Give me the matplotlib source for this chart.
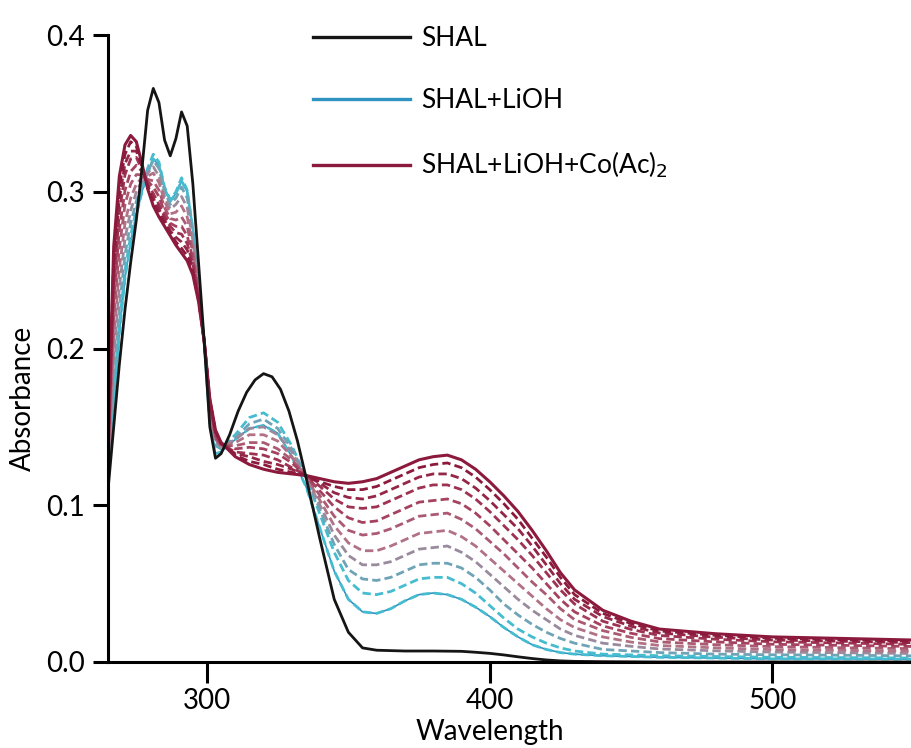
import matplotlib
matplotlib.use('Agg')

import matplotlib.pyplot as plt
from matplotlib.lines import Line2D
from matplotlib.colors import LinearSegmentedColormap

plt.rcParams['font.family'] = ['Lato', 'DejaVu Sans']

# wavelength grid (nm) shared by all spectra
wavelength = [265, 267, 269, 271, 273, 275, 277, 279, 281, 283, 285, 287, 289, 291, 293,
              295, 297, 299, 301, 303, 305, 310, 315, 320, 325, 330, 335, 340, 345, 350,
              355, 360, 365, 370, 375, 380, 385, 390, 395, 400, 405, 410, 415, 420, 425,
              430, 440, 450, 460, 480, 500, 525, 550]

# black curve gets a finer grid around its 320 nm band
wl_shal = [265, 267, 269, 271, 273, 275, 277, 279, 281, 283, 285, 287, 289, 291, 293,
           295, 297, 299, 301, 303, 305, 308, 311, 314, 317, 320, 323, 326, 329, 332,
           335, 340, 345, 350, 355, 360, 370, 380, 390, 395, 400, 405, 410, 415, 420,
           425, 430, 440, 460, 500, 550]
shal = [0.110, 0.150, 0.190, 0.225, 0.255, 0.282, 0.315, 0.352, 0.366, 0.357, 0.333, 0.323,
        0.334, 0.351, 0.342, 0.305, 0.255, 0.205, 0.150, 0.130, 0.133, 0.145, 0.160, 0.172,
        0.180, 0.184, 0.182, 0.174, 0.160, 0.141, 0.118, 0.078, 0.040, 0.019, 0.009, 0.0075,
        0.007, 0.007, 0.0068, 0.0062, 0.0055, 0.0045, 0.0033, 0.0022, 0.0013, 0.0007,
        0.0004, 0.0002, 0.0, 0.0, 0.0]

shal_lioh = [0.113, 0.165, 0.210, 0.245, 0.268, 0.285, 0.300, 0.312, 0.321, 0.317, 0.302,
             0.294, 0.299, 0.307, 0.300, 0.276, 0.241, 0.204, 0.152, 0.133, 0.134, 0.142,
             0.149, 0.151, 0.146, 0.131, 0.112, 0.085, 0.058, 0.040, 0.032, 0.031, 0.034,
             0.039, 0.043, 0.044, 0.043, 0.040, 0.035, 0.029, 0.022, 0.016, 0.011, 0.008,
             0.006, 0.005, 0.004, 0.0035, 0.003, 0.0025, 0.002, 0.002, 0.0018]

# Co(Ac)2 titration steps, dashed
titration = [
    [0.115, 0.170, 0.215, 0.250, 0.272, 0.289, 0.303, 0.315, 0.324, 0.319, 0.303, 0.295,
     0.300, 0.309, 0.301, 0.276, 0.241, 0.204, 0.158, 0.138, 0.136, 0.145, 0.156, 0.159,
     0.153, 0.138, 0.118, 0.094, 0.070, 0.052, 0.044, 0.043, 0.045, 0.049, 0.053, 0.054,
     0.054, 0.050, 0.044, 0.036, 0.028, 0.021, 0.016, 0.012, 0.009, 0.007, 0.005, 0.0045,
     0.004, 0.0035, 0.003, 0.0028, 0.0025],
    [0.118, 0.181, 0.226, 0.260, 0.280, 0.294, 0.305, 0.313, 0.320, 0.315, 0.300, 0.292,
     0.296, 0.303, 0.296, 0.273, 0.240, 0.204, 0.159, 0.139, 0.136, 0.143, 0.152, 0.155,
     0.149, 0.136, 0.118, 0.097, 0.075, 0.059, 0.053, 0.052, 0.054, 0.058, 0.062, 0.063,
     0.063, 0.060, 0.054, 0.046, 0.037, 0.030, 0.024, 0.019, 0.015, 0.012, 0.008, 0.007,
     0.006, 0.005, 0.0046, 0.0043, 0.0039],
    [0.121, 0.194, 0.239, 0.270, 0.288, 0.300, 0.307, 0.312, 0.316, 0.310, 0.297, 0.289,
     0.292, 0.297, 0.290, 0.269, 0.238, 0.204, 0.161, 0.141, 0.137, 0.142, 0.149, 0.150,
     0.145, 0.134, 0.118, 0.100, 0.081, 0.068, 0.062, 0.062, 0.064, 0.068, 0.072, 0.073,
     0.074, 0.070, 0.064, 0.056, 0.048, 0.040, 0.033, 0.027, 0.021, 0.017, 0.012, 0.010,
     0.0083, 0.0071, 0.0063, 0.0059, 0.0054],
    [0.125, 0.206, 0.251, 0.280, 0.296, 0.305, 0.309, 0.310, 0.312, 0.306, 0.294, 0.286,
     0.287, 0.291, 0.284, 0.265, 0.237, 0.204, 0.162, 0.142, 0.138, 0.140, 0.145, 0.145,
     0.141, 0.131, 0.118, 0.103, 0.087, 0.076, 0.071, 0.071, 0.074, 0.078, 0.082, 0.083,
     0.084, 0.080, 0.074, 0.066, 0.058, 0.050, 0.042, 0.034, 0.027, 0.022, 0.016, 0.0127,
     0.0105, 0.009, 0.0079, 0.0074, 0.0069],
    [0.128, 0.219, 0.264, 0.292, 0.305, 0.311, 0.311, 0.308, 0.307, 0.301, 0.290, 0.283,
     0.282, 0.284, 0.278, 0.261, 0.235, 0.205, 0.163, 0.143, 0.138, 0.138, 0.140, 0.140,
     0.136, 0.129, 0.119, 0.106, 0.093, 0.084, 0.081, 0.082, 0.085, 0.089, 0.093, 0.094,
     0.095, 0.091, 0.085, 0.077, 0.069, 0.060, 0.051, 0.043, 0.034, 0.027, 0.020, 0.0157,
     0.0128, 0.011, 0.0098, 0.0091, 0.0085],
    [0.131, 0.231, 0.276, 0.301, 0.313, 0.317, 0.313, 0.307, 0.303, 0.297, 0.287, 0.280,
     0.278, 0.278, 0.272, 0.257, 0.234, 0.205, 0.164, 0.144, 0.139, 0.136, 0.137, 0.136,
     0.133, 0.127, 0.119, 0.109, 0.099, 0.092, 0.089, 0.090, 0.094, 0.098, 0.102, 0.103,
     0.104, 0.101, 0.095, 0.087, 0.078, 0.069, 0.060, 0.050, 0.040, 0.032, 0.023, 0.0183,
     0.0149, 0.0128, 0.0113, 0.0106, 0.0099],
    [0.134, 0.242, 0.287, 0.311, 0.321, 0.322, 0.314, 0.305, 0.299, 0.292, 0.284, 0.278,
     0.274, 0.273, 0.267, 0.254, 0.233, 0.205, 0.166, 0.146, 0.139, 0.134, 0.133, 0.132,
     0.129, 0.124, 0.119, 0.112, 0.104, 0.099, 0.098, 0.099, 0.103, 0.107, 0.111, 0.113,
     0.113, 0.110, 0.104, 0.096, 0.087, 0.078, 0.068, 0.057, 0.046, 0.037, 0.026, 0.0208,
     0.0169, 0.0145, 0.0129, 0.0121, 0.0112],
    [0.136, 0.251, 0.296, 0.318, 0.326, 0.326, 0.316, 0.304, 0.296, 0.289, 0.282, 0.275,
     0.271, 0.268, 0.263, 0.251, 0.232, 0.205, 0.167, 0.147, 0.139, 0.133, 0.131, 0.128,
     0.126, 0.123, 0.119, 0.114, 0.108, 0.105, 0.104, 0.106, 0.110, 0.114, 0.118, 0.120,
     0.120, 0.117, 0.111, 0.103, 0.094, 0.085, 0.074, 0.062, 0.050, 0.040, 0.029, 0.0228,
     0.0185, 0.0158, 0.014, 0.0132, 0.0123],
    [0.138, 0.258, 0.303, 0.324, 0.332, 0.329, 0.317, 0.303, 0.293, 0.286, 0.280, 0.274,
     0.268, 0.264, 0.259, 0.249, 0.231, 0.205, 0.167, 0.147, 0.140, 0.132, 0.128, 0.126,
     0.123, 0.121, 0.119, 0.115, 0.112, 0.110, 0.110, 0.112, 0.116, 0.120, 0.124, 0.126,
     0.127, 0.124, 0.118, 0.110, 0.101, 0.091, 0.079, 0.067, 0.054, 0.043, 0.031, 0.0245,
     0.0198, 0.017, 0.0151, 0.0141, 0.0132],
]

shal_lioh_co = [0.140, 0.265, 0.310, 0.330, 0.336, 0.332, 0.318, 0.302, 0.291, 0.284, 0.278,
                0.272, 0.266, 0.261, 0.256, 0.247, 0.230, 0.205, 0.168, 0.148, 0.140, 0.131,
                0.126, 0.123, 0.121, 0.120, 0.119, 0.117, 0.115, 0.114, 0.115, 0.117, 0.121,
                0.125, 0.129, 0.131, 0.132, 0.129, 0.123, 0.115, 0.106, 0.096, 0.084, 0.071,
                0.057, 0.046, 0.033, 0.026, 0.021, 0.018, 0.016, 0.015, 0.014]

legend_labels = ['SHAL', 'SHAL+LiOH', 'SHAL+LiOH+Co(Ac)$_2$']

c_black = '#151515'
c_blue = '#2f93c2'
c_cyan = '#45bccf'
c_red = '#8c1a3c'
cmap = LinearSegmentedColormap.from_list('tit', [c_cyan, '#b47a8c', '#a33a5a', c_red])

fig = plt.figure(figsize=(9.11, 7.48), dpi=100)
ax = fig.add_axes([0.1186, 0.115, 0.8814, 0.838])

# LiOH spectrum: solid blue under a cyan dashed trace
ax.plot(wavelength, shal_lioh, color=c_blue, lw=1.2)
ax.plot(wavelength, shal_lioh, color=c_cyan, lw=2.0, dashes=(3, 1.5))
n = len(titration)
for i, spec in enumerate(titration):
    col = cmap(i / (n - 1))
    ax.plot(wavelength, spec, color=col, lw=2.0, dashes=(3, 1.5))
ax.plot(wavelength, shal_lioh_co, color=c_red, lw=2.2)
ax.plot(wl_shal, shal, color=c_black, lw=2.0)

ax.set_xlim(265, 549)
ax.set_ylim(0, 0.4)
ax.set_xticks([300, 400, 500])
ax.set_yticks([0.0, 0.1, 0.2, 0.3, 0.4])
ax.set_yticklabels(['0.0', '0.1', '0.2', '0.3', '0.4'])

for s in ['top', 'right']:
    ax.spines[s].set_visible(False)
for s in ['left', 'bottom']:
    ax.spines[s].set_linewidth(2.2)
ax.tick_params(axis='y', length=11, width=2.2, pad=6, labelsize=20, direction='out')
ax.tick_params(axis='x', length=15, width=2.2, pad=4, labelsize=20, direction='out')

ax.set_xlabel('Wavelength', fontsize=20)
ax.set_ylabel('Absorbance', fontsize=20)
ax.xaxis.set_label_coords(0.476, -0.091)
ax.yaxis.set_label_coords(-0.09, 0.42)

handles = [Line2D([], [], color=c_black, lw=2.4),
           Line2D([], [], color=c_blue, lw=2.4),
           Line2D([], [], color=c_red, lw=2.4)]
ax.legend(handles, legend_labels, loc='upper left', bbox_to_anchor=(0.255, 1.014),
          frameon=False, fontsize=19, handlelength=3.7, handletextpad=0.4,
          labelspacing=1.39, borderpad=0, borderaxespad=0)

fig.savefig('out.png', dpi=100)
